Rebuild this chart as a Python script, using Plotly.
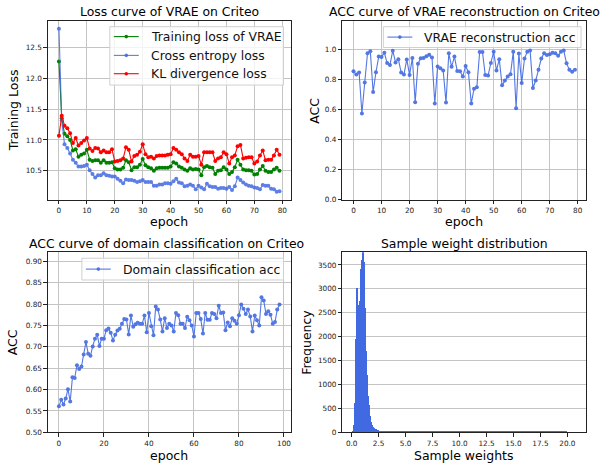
import numpy as np
import plotly.graph_objects as go

# ---------------- data ----------------
epochs80 = list(range(80))
train_loss = [12.27, 11.35, 11.10, 11.06, 11.00, 10.83, 10.85, 10.73, 10.76, 10.78,
              10.84, 10.68, 10.66, 10.67, 10.67, 10.63, 10.67, 10.63, 10.63, 10.64,
              10.54, 10.52, 10.52, 10.55, 10.67, 10.64, 10.51, 10.56, 10.56, 10.60,
              10.69, 10.59, 10.56, 10.54, 10.50, 10.54, 10.55, 10.55, 10.55, 10.55,
              10.57, 10.64, 10.62, 10.57, 10.55, 10.52, 10.50, 10.54, 10.52, 10.53,
              10.52, 10.43, 10.56, 10.58, 10.56, 10.55, 10.45, 10.50, 10.51, 10.56,
              10.52, 10.45, 10.48, 10.56, 10.68, 10.60, 10.52, 10.51, 10.51, 10.50,
              10.44, 10.45, 10.52, 10.58, 10.50, 10.48, 10.48, 10.52, 10.55, 10.50]
ce_loss = [12.80, 11.32, 10.93, 10.87, 10.78, 10.68, 10.63, 10.57, 10.57, 10.58,
           10.60, 10.51, 10.45, 10.39, 10.43, 10.43, 10.46, 10.43, 10.42, 10.41,
           10.41, 10.37, 10.34, 10.30, 10.36, 10.35, 10.35, 10.34, 10.32, 10.33,
           10.35, 10.32, 10.32, 10.32, 10.26, 10.26, 10.28, 10.28, 10.30, 10.30,
           10.29, 10.33, 10.37, 10.31, 10.30, 10.25, 10.26, 10.28, 10.26, 10.20,
           10.26, 10.23, 10.20, 10.29, 10.25, 10.24, 10.24, 10.21, 10.22, 10.22,
           10.21, 10.24, 10.19, 10.25, 10.39, 10.35, 10.31, 10.28, 10.26, 10.25,
           10.23, 10.22, 10.20, 10.27, 10.26, 10.26, 10.21, 10.20, 10.16, 10.17]
kl_loss = [11.07, 11.39, 11.23, 11.19, 11.11, 10.95, 11.03, 10.91, 10.95, 10.99,
           11.03, 10.86, 10.82, 10.87, 10.86, 10.80, 10.83, 10.80, 10.80, 10.85,
           10.65, 10.66, 10.67, 10.70, 10.88, 10.84, 10.65, 10.74, 10.76, 10.81,
           10.93, 10.77, 10.72, 10.73, 10.70, 10.74, 10.75, 10.75, 10.75, 10.76,
           10.77, 10.87, 10.84, 10.80, 10.77, 10.70, 10.66, 10.76, 10.73, 10.73,
           10.74, 10.60, 10.80, 10.80, 10.80, 10.80, 10.66, 10.70, 10.72, 10.80,
           10.77, 10.62, 10.72, 10.75, 10.90, 10.92, 10.70, 10.71, 10.72, 10.72,
           10.62, 10.65, 10.75, 10.83, 10.67, 10.68, 10.68, 10.75, 10.84, 10.76]

recon_acc = [0.854, 0.833, 0.846, 0.574, 0.780, 0.974, 0.987, 0.717, 0.848, 0.952,
             0.950, 0.978, 0.909, 0.896, 0.991, 0.913, 0.935, 0.846, 0.833, 0.933,
             0.830, 0.943, 0.648, 0.905, 0.941, 0.943, 0.955, 0.965, 0.946, 0.640,
             0.887, 0.874, 0.859, 0.647, 0.974, 0.884, 0.952, 0.857, 0.855, 0.820,
             0.889, 0.848, 0.640, 0.739, 0.749, 0.983, 0.983, 0.830, 0.826, 0.909,
             0.985, 0.859, 0.935, 0.761, 0.793, 0.820, 0.835, 0.985, 0.609, 0.972,
             0.776, 0.939, 0.985, 0.993, 0.743, 0.793, 0.865, 0.939, 0.974, 0.963,
             0.967, 0.978, 0.974, 0.957, 0.985, 0.993, 0.907, 0.865, 0.852, 0.865]

epochs99 = list(range(99))
domain_acc = [0.561, 0.576, 0.565, 0.579, 0.601, 0.572, 0.629, 0.627, 0.657, 0.648,
              0.654, 0.682, 0.711, 0.684, 0.679, 0.701, 0.719, 0.728, 0.702, 0.719,
              0.719, 0.739, 0.743, 0.733, 0.715, 0.728, 0.738, 0.742, 0.754, 0.765,
              0.764, 0.729, 0.773, 0.747, 0.753, 0.756, 0.754, 0.754, 0.773, 0.734,
              0.779, 0.748, 0.727, 0.794, 0.787, 0.764, 0.736, 0.767, 0.744, 0.754,
              0.750, 0.736, 0.779, 0.774, 0.754, 0.754, 0.744, 0.770, 0.762, 0.750,
              0.724, 0.779, 0.779, 0.765, 0.731, 0.779, 0.763, 0.763, 0.779, 0.777,
              0.767, 0.796, 0.779, 0.780, 0.739, 0.757, 0.748, 0.767, 0.761, 0.754,
              0.774, 0.799, 0.789, 0.777, 0.787, 0.771, 0.736, 0.773, 0.762, 0.750,
              0.816, 0.808, 0.777, 0.783, 0.775, 0.754, 0.758, 0.787, 0.799]

# histogram of sample weights: bin edges and counts
fine_edges = [round(0.15 + 0.05 * i, 2) for i in range(58)]       # 0.15 .. 3.00
tail_edges = [3.5, 4.0, 4.5, 5.0, 6.0, 7.0, 8.0, 9.0, 10.0, 11.0, 12.0, 13.0,
              14.0, 15.0, 16.0, 17.0, 18.0, 19.0, 20.0, 20.5]
weight_edges = fine_edges + tail_edges
weight_counts = [20, 60, 150, 600, 1300, 1950, 2650, 3020, 2700, 2650,
                 2100, 1850, 2300, 2750, 3100, 3400, 3600, 3650, 3760, 3700,
                 3550, 3100, 2600, 2100, 1700, 1450, 1200, 950, 750, 560,
                 430, 330, 260, 210, 170, 140, 120, 100, 90, 80,
                 70, 60, 55, 50, 45, 40, 36, 33, 30, 28,
                 27, 26, 25, 24, 23, 22, 21,
                 20, 19, 18, 17, 16, 15, 15, 15, 15, 15, 15, 15, 15, 15, 15, 15, 15, 15, 15]

# ---------------- figure ----------------
FONT = "DejaVu Sans"
BLUE = "royalblue"
W, H = 603, 470


def px_x(v):
    return v / W


def px_y(v):
    return 1 - v / H


fig = go.Figure()

series = [
    (epochs80, train_loss, "Training loss of VRAE", "green", 1.0, "x", "y"),
    (epochs80, ce_loss, "Cross entropy loss", BLUE, 0.85, "x", "y"),
    (epochs80, kl_loss, "KL divergence loss", "red", 1.0, "x", "y"),
    (epochs80, recon_acc, "VRAE reconstruction acc", BLUE, 0.9, "x2", "y2"),
    (epochs99, domain_acc, "Domain classification acc", BLUE, 0.9, "x3", "y3"),
]
for xs, ys, name, col, op, xa, ya in series:
    fig.add_trace(go.Scatter(x=xs, y=ys, name=name, mode="lines+markers",
                             line=dict(color=col, width=1.1), marker=dict(size=4, color=col),
                             opacity=op, xaxis=xa, yaxis=ya, showlegend=False))

edges = np.array(weight_edges, dtype=float)
centers = (edges[:-1] + edges[1:]) / 2
widths = np.diff(edges)
fig.add_trace(go.Bar(x=centers, y=weight_counts, width=widths,
                     marker=dict(color=BLUE, line=dict(width=0)),
                     xaxis="x4", yaxis="y4", showlegend=False))

# domains (pixels)
dx_left = [px_x(48), px_x(291)]
dx_right = [px_x(343), px_x(587)]
dy_top = [px_y(202), px_y(21)]
dy_bot = [px_y(437), px_y(255)]

ax_common = dict(showline=True, mirror=True, linecolor="#222", linewidth=1,
                 ticks="outside", ticklen=3.5, tickwidth=0.8, tickcolor="#222",
                 showgrid=True, gridcolor="#c4c4c4", gridwidth=1.2, zeroline=False,
                 tickfont=dict(family=FONT, size=7.3, color="#222"))

fig.update_layout(
    width=W, height=H, autosize=False,
    margin=dict(l=0, r=0, t=0, b=0),
    paper_bgcolor="white", plot_bgcolor="white",
    font=dict(family=FONT, color="black"),
    xaxis=dict(domain=dx_left, anchor="y", range=[-3.95, 82.95], tickvals=list(range(0, 81, 10)), **ax_common),
    yaxis=dict(domain=dy_top, anchor="x", range=[10.03, 12.93], tickvals=[10.5, 11.0, 11.5, 12.0, 12.5],
               tickformat=".1f", **ax_common),
    xaxis2=dict(domain=dx_right, anchor="y2", range=[-3.95, 82.95], tickvals=list(range(0, 81, 10)), **ax_common),
    yaxis2=dict(domain=dy_top, anchor="x2", range=[0, 1.19], tickvals=[0, 0.2, 0.4, 0.6, 0.8, 1.0],
                tickformat=".1f", **ax_common),
    xaxis3=dict(domain=dx_left, anchor="y3", range=[-4.9, 102.9], tickvals=list(range(0, 101, 20)), **ax_common),
    yaxis3=dict(domain=dy_bot, anchor="x3", range=[0.5, 0.921],
                tickvals=[0.5, 0.55, 0.6, 0.65, 0.7, 0.75, 0.8, 0.85, 0.9], tickformat=".2f", **ax_common),
    xaxis4=dict(domain=dx_right, anchor="y4", range=[-0.86, 21.73],
                tickvals=[0, 2.5, 5, 7.5, 10, 12.5, 15, 17.5, 20], tickformat=".1f",
                **{**ax_common, "showgrid": False}),
    yaxis4=dict(domain=dy_bot, anchor="x4", range=[0, 3765], tickvals=list(range(0, 3501, 500)), **ax_common),
    bargap=0,
)

# ---------------- legends (drawn like matplotlib's) ----------------
LEG_FONT = 12.4


def add_legend(box, entries):
    x0, y0, x1, y1 = box
    fig.add_shape(type="rect", xref="paper", yref="paper", layer="above",
                  x0=px_x(x0), x1=px_x(x1), y0=px_y(y1), y1=px_y(y0),
                  line=dict(color="#d0d0d0", width=1), fillcolor="rgba(255,255,255,0.8)")
    for (lx0, lx1, ry, name, col, op) in entries:
        fig.add_shape(type="line", xref="paper", yref="paper", layer="above",
                      x0=px_x(lx0), x1=px_x(lx1), y0=px_y(ry), y1=px_y(ry),
                      line=dict(color=col, width=1.1), opacity=op)
        cx = (lx0 + lx1) / 2
        fig.add_shape(type="circle", xref="paper", yref="paper", layer="above",
                      x0=px_x(cx - 1.8), x1=px_x(cx + 1.8), y0=px_y(ry + 1.8), y1=px_y(ry - 1.8),
                      line=dict(width=0), fillcolor=col, opacity=op)
        fig.add_annotation(text=name, x=px_x(lx1 + 10), y=px_y(ry), xref="paper", yref="paper",
                           showarrow=False, xanchor="left", yanchor="middle",
                           font=dict(family=FONT, size=LEG_FONT, color="#111"))


add_legend((110, 27, 284, 86), [
    (114, 139, 37, "Training loss of VRAE", "green", 1.0),
    (114, 139, 56, "Cross entropy loss", BLUE, 0.85),
    (114, 139, 74.5, "KL divergence loss", "red", 1.0),
])
add_legend((384, 27, 582, 48), [
    (388, 413, 37.5, "VRAE reconstruction acc", BLUE, 0.9),
])
add_legend((82, 261, 284, 283), [
    (86, 111, 272, "Domain classification acc", BLUE, 0.9),
])

# titles
titles = [
    ("Loss curve of VRAE on Criteo", (48 + 291) / 2, 12),
    ("ACC curve of VRAE reconstruction on Criteo", 465.5, 12),
    ("ACC curve of domain classification on Criteo", 167, 246),
    ("Sample weight distribution", (343 + 587) / 2, 246),
]
for text, cx, cy in titles:
    fig.add_annotation(text=text, x=px_x(cx), y=px_y(cy), xref="paper", yref="paper",
                       showarrow=False, xanchor="center", yanchor="middle",
                       font=dict(family=FONT, size=12.4, color="black"))

xlabels = [("epoch", (48 + 291) / 2, 224), ("epoch", (343 + 587) / 2, 224),
           ("epoch", (48 + 291) / 2, 460), ("Sample weights", (343 + 587) / 2, 460)]
for text, cx, cy in xlabels:
    fig.add_annotation(text=text, x=px_x(cx), y=px_y(cy), xref="paper", yref="paper",
                       showarrow=False, xanchor="center", yanchor="middle",
                       font=dict(family=FONT, size=12.5, color="black"))

ylabels = [("Training Loss", 13, (21 + 202) / 2), ("ACC", 315, (21 + 202) / 2),
           ("ACC", 12, (255 + 437) / 2), ("Frequency", 307, (255 + 437) / 2)]
for text, cx, cy in ylabels:
    fig.add_annotation(text=text, x=px_x(cx), y=px_y(cy), xref="paper", yref="paper",
                       showarrow=False, xanchor="center", yanchor="middle", textangle=-90,
                       font=dict(family=FONT, size=12.5, color="black"))

fig.write_html("out.html", config={"displayModeBar": False},
               post_script="document.body.style.margin='0';document.body.style.padding='0';")
